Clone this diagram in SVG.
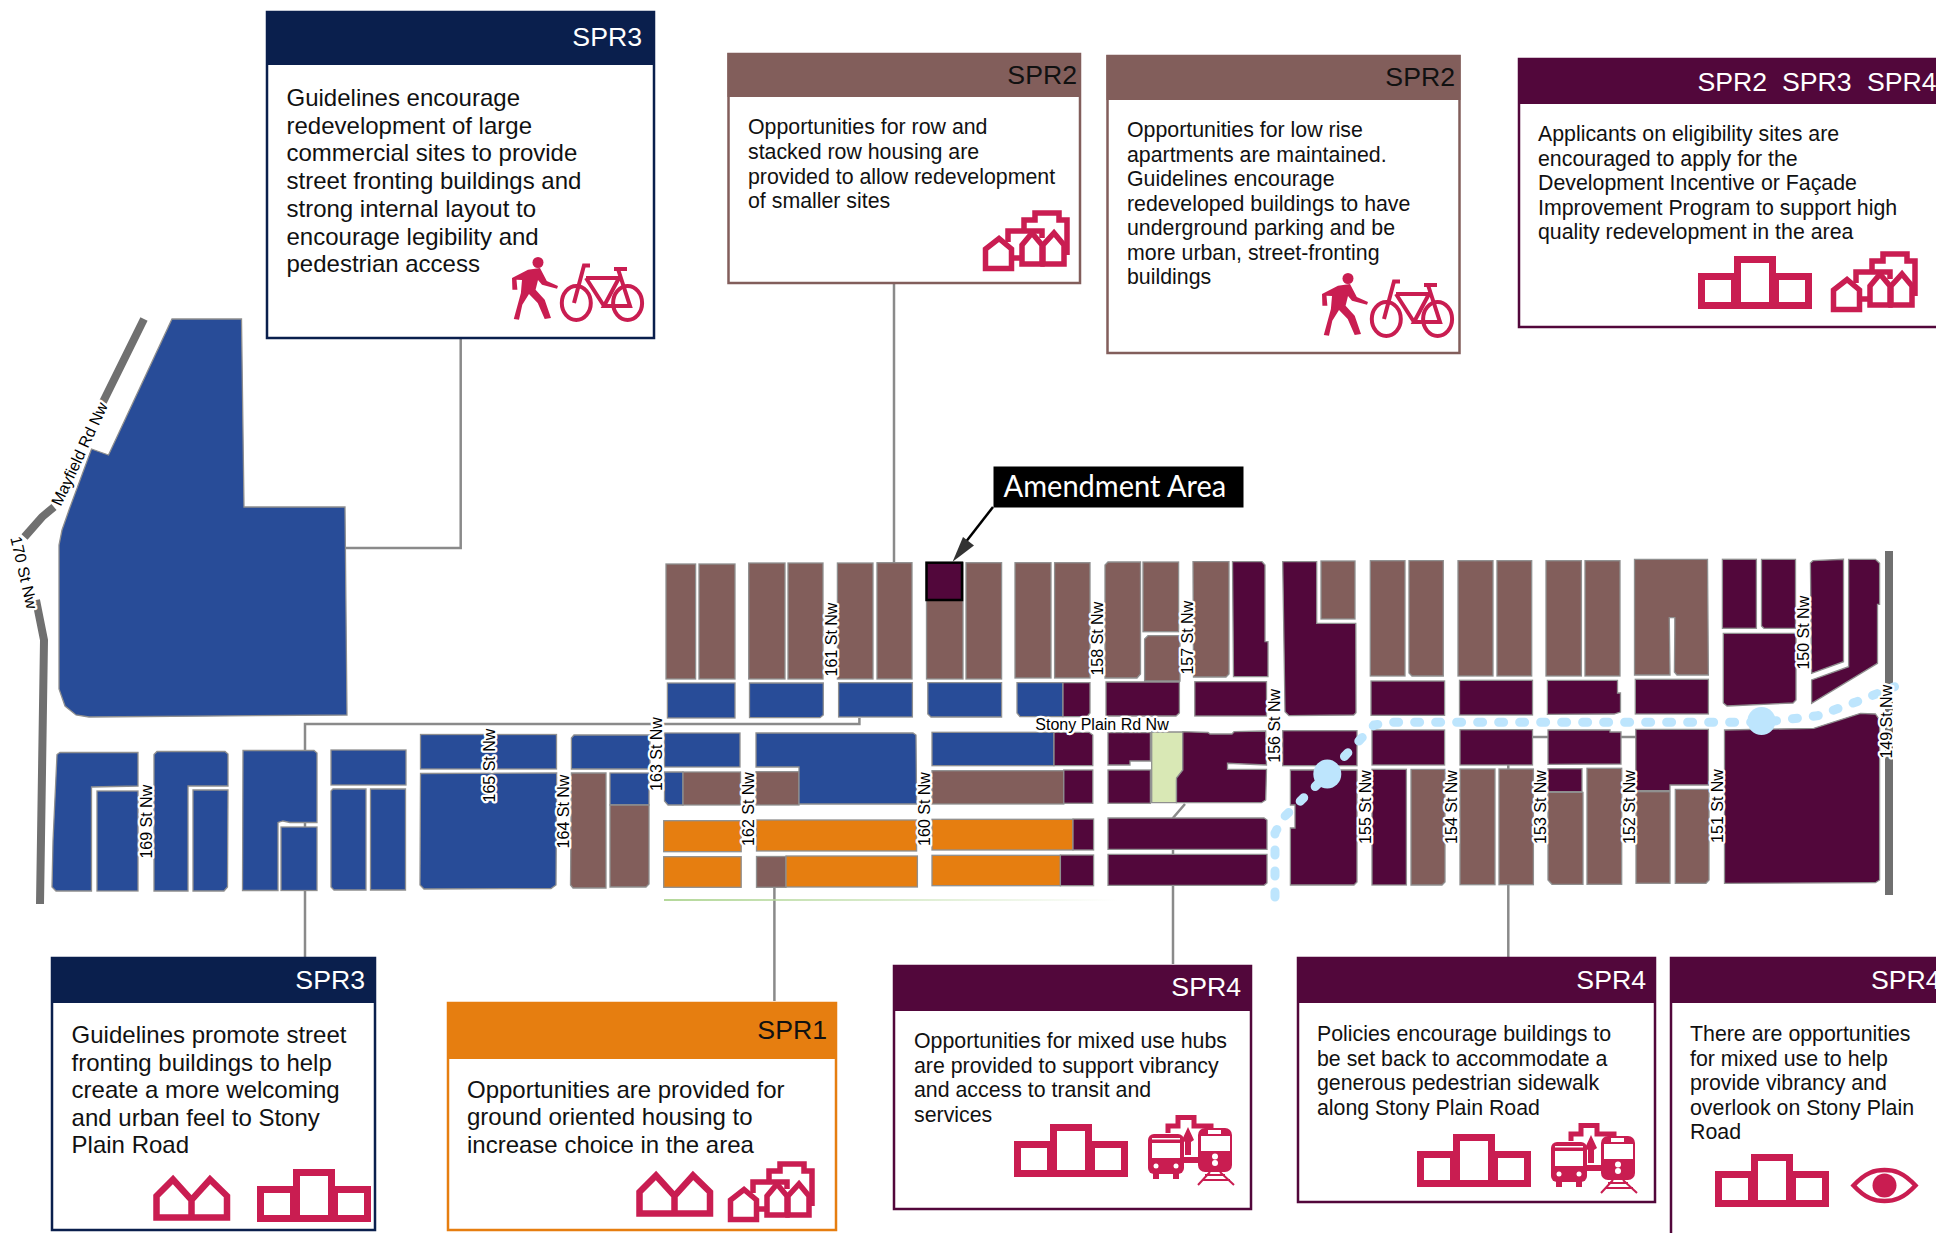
<svg xmlns="http://www.w3.org/2000/svg" xmlns:xlink="http://www.w3.org/1999/xlink" width="1936" height="1233" viewBox="0 0 1936 1233">
<style>
text{font-family:"Liberation Sans",Arial,sans-serif;fill:#111}
.b{fill:#284c98}.r{fill:#825e5b}.p{fill:#52073b}.o{fill:#e67e10}
#map rect,#map polygon{stroke:#8f8f8f;stroke-width:1.3}
.st{font-size:16px;text-anchor:middle;stroke:#fff;stroke-width:4.5px;paint-order:stroke;stroke-linejoin:round;fill:#000}
.road{fill:none;stroke:#707070;stroke-width:8}
.conn{fill:none;stroke:#8a8a8a;stroke-width:2.5}
.hd{font-size:26.67px;text-anchor:end}
.lg{font-size:24px}.sm{font-size:21.33px}
.w{fill:#fff}
.ic{fill:none;stroke:#c91d51}
.icf{fill:#c91d51}
.pw{fill:#fff;stroke-width:2.5}
</style>
<defs>
<linearGradient id="gl" gradientUnits="userSpaceOnUse" x1="664" y1="0" x2="1118" y2="0"><stop offset="0" stop-color="#b4d89a"/><stop offset="1" stop-color="#b4d89a" stop-opacity="0"/></linearGradient>
<g id="podium"><path class="ic" stroke-width="7" d="M3.5,20.5H36.500V49.500H3.500ZM39.500,3.500H74.500V49.500H39.500ZM77.500,20.500H110.500V49.500H77.500Z"/></g>
<g id="cluster"><g class="ic" stroke-width="5.500"><path d="M2.5,58.500V39L16,28.500L28.500,39V58.500Z"/><path d="M25,32V21H59V28"/><path d="M41,21V10H52V3H76V10H84V45"/><path d="M39,54V35L49,23L59,35V54Z"/><path d="M60,54V35L71,23L81,35V54Z"/><path d="M29,48H39"/></g></g>
<g id="houses"><path class="ic" stroke-width="6.500" d="M3.500,44.500V23L20,6.500L38.500,27L57,6.500L74,23V44.500ZM38.500,27V44.500"/></g>
<g id="pedbike"><circle class="icf" cx="26" cy="4.500" r="5.500"/><polygon class="icf" points="16,11.700 28,10 34.800,23 46,28 45,30.700 30,26.700 26,22 23.600,31.700 32.700,41.700 39,60 32.700,61 25.700,45 17,36 10.300,46.700 7,61.700 1.800,61 8.900,35 10,22 4.500,21.700 5.400,31.700 0.400,31.700 0,20"/><g class="ic" stroke-width="4"><ellipse cx="64.300" cy="45" rx="14.500" ry="17"/><ellipse cx="115.600" cy="45" rx="14.500" ry="17"/><path d="M62,45L72,7.500H78M74,20H107L92,48H118L106,11M74,20L92,48M102,11H115"/></g></g>
<g id="transit"><path class="ic" stroke-width="5" d="M20,18V11H30V2.500H46V11H63V15"/><polygon class="icf" points="40,12 46,25 43,27 43,40 37,40 37,27 34,25"/><rect class="icf" x="36" y="42" width="14" height="6"/><rect class="icf" x="0" y="19" width="36" height="40" rx="6"/><rect class="w" x="4" y="28" width="28" height="15"/><rect class="w" x="4" y="23" width="28" height="1.500"/><circle class="w" cx="8" cy="51" r="2.500"/><circle class="w" cx="28" cy="51" r="2.500"/><rect class="icf" x="5" y="58" width="6" height="6"/><rect class="icf" x="25" y="58" width="6" height="6"/><rect class="icf" x="50" y="13" width="34" height="44" rx="7"/><rect class="w" x="53" y="21" width="29" height="15"/><rect class="w" x="60" y="15" width="13" height="4"/><circle class="w" cx="67" cy="41.500" r="3"/><circle class="w" cx="67" cy="48" r="3"/><path class="ic" stroke-width="2" d="M62,57L50,70M72,57L86,70M57,60H77M54,65H82"/></g>
<g id="eye"><path class="ic" stroke-width="4.500" d="M2.500,17.500C15,4 24,2 33.500,2C43,2 52,4 64.500,17.500C52,31 43,33 33.500,33C24,33 15,31 2.500,17.500Z"/><ellipse class="icf" cx="33.500" cy="17.500" rx="12" ry="12"/></g>
</defs>
<rect width="1936" height="1233" fill="#fff"/>

<g id="connectors">
<path class="conn" d="M460.700,338V548H346"/>
<path class="conn" d="M894,283V563"/>
<path class="conn" d="M859.400,718V724H305V957"/>
<path class="conn" d="M774.400,887V1001"/>
<path class="conn" d="M1185,804L1173,818V964"/>
<path class="conn" d="M1508.300,737V957M1508,737H1636"/>
<path stroke="url(#gl)" stroke-width="2" fill="none" d="M664,900H1118"/>
</g>

<g id="roads">
<path class="road" d="M144,319L103,402M54,507L42,517L24.500,537"/>
<path class="road" d="M36,600L44,640L40,904"/>
<path class="road" d="M1889,551V895"/>
</g>

<g id="map">
<polygon class="b" points="172,319 241.500,319 244,507 345,507 347,715 89,717 76,715 65,706 59,689 59,545 62,530 69,510 91.500,449 108.500,455"/>
<polygon class="b" points="57,754.500 60,752.500 138,752.500 138,786 91.500,787 91.500,891 56,891 52,887 53,841"/>
<rect class="b" x="97" y="791" width="41" height="100"/>
<polygon class="b" points="154,754.500 157,751.500 225,751.500 228,754 228,786 188,786 188,891 154,891"/>
<polygon class="b" points="193,790 228,790 227.500,887 224,891 193,891"/>
<polygon class="b" points="243,750.500 314,750.500 317,753 317,822.500 290,822.500 283,821 278,822.500 278,890.500 242.500,890.500"/>
<rect class="b" x="281" y="827" width="36" height="63.500"/>
<rect class="b" x="331" y="750" width="75" height="35"/>
<polygon class="b" points="333,789 366,789 366,890 334,890 331,887 331,791"/>
<polygon class="b" points="370.500,789 405.500,789 405.500,890 370.500,890"/>
<rect class="b" x="420.500" y="734.500" width="136" height="34.500"/>
<polygon class="b" points="420.500,773.500 556.700,773 556,885 551,888.500 424,889 420,885"/>
<polygon class="b" points="574,735 650,735 650,769 571.400,769 571.400,738"/>
<polygon class="r" points="571.400,773 606,773 606,888 573,888 570.500,885"/>
<rect class="b" x="610" y="773" width="39" height="32"/>
<polygon class="r" points="610,805 649,805 649,884 646,887 610,887"/>
<rect class="b" x="664.500" y="733" width="75.500" height="34"/>
<polygon class="b" points="664.500,772 683,772 683,805 668,805 664.500,801"/>
<rect class="r" x="683" y="772" width="57.500" height="33"/>
<rect class="r" x="756" y="771.700" width="43" height="33.300"/>
<polygon class="b" points="756,733 913,733 916,735 916.600,804 799,804 799,767 756,767"/>

<rect class="r" x="666" y="564" width="29.600" height="115"/>
<rect class="r" x="699" y="564" width="36" height="115"/>
<rect class="r" x="748.700" y="563" width="36.300" height="116"/>
<rect class="r" x="788" y="563" width="35" height="116"/>
<rect class="r" x="837.400" y="563" width="35.600" height="116"/>
<rect class="r" x="877" y="562.700" width="35" height="116.300"/>
<rect class="r" x="926.500" y="562.700" width="36.500" height="116.300"/>
<rect class="r" x="966" y="562.700" width="35.600" height="116.300"/>
<rect class="r" x="1015" y="562.700" width="36" height="115.300"/>
<rect class="r" x="1054.600" y="562.700" width="35.400" height="115.300"/>
<polygon class="r" points="1108,562 1140.500,562 1140.500,674 1137,678 1105,678 1105,565"/>
<rect class="r" x="1143" y="562" width="35.600" height="69.700"/>
<polygon class="r" points="1148,635.700 1180,635.700 1180,681 1144.600,681 1144.600,639"/>
<polygon class="r" points="1193,561.700 1229,561.700 1229,674 1226,677 1193.500,677"/>
<polygon class="p" points="1232.500,561.700 1262,561.700 1265,565 1265,641.700 1268,641.700 1268,676.700 1233.500,676.700"/>

<rect class="b" x="667.400" y="683" width="67.600" height="35"/>
<polygon class="b" points="749.500,683 823.300,683 823.300,715 820,717.700 749.500,717.700"/>
<rect class="b" x="838.600" y="682.700" width="73.800" height="34.300"/>
<polygon class="b" points="927.800,682.700 1001.600,682.700 1001.600,717 931,717 927.800,714"/>
<polygon class="b" points="1017,682.700 1063,682.700 1063,716.700 1020,716.700 1017,713"/>
<polygon class="p" points="1063,682.700 1090,682.700 1090,713 1087,716.700 1063,716.700"/>
<polygon class="p" points="1106,682 1179.400,682 1179.400,713 1176,716 1106,716"/>
<rect class="p" x="1194.800" y="681.700" width="71.700" height="34.300"/>

<rect class="b" x="932" y="732.300" width="122" height="33.400"/>
<polygon class="p" points="1054,732.300 1089,732.300 1092.800,735 1092.800,765.700 1054,765.700"/>
<polygon class="p" points="1108,732.700 1150.400,732.700 1150.400,761 1130,761 1130,765 1108,765"/>
<polygon fill="#d9e8b5" points="1151.700,732 1182.800,732 1182.800,770 1176.500,780 1176.500,802.700 1151.700,802.700"/>
<polygon class="p" points="1182.800,731.700 1208,732.500 1210,734 1232,734 1234,731.700 1265.700,731 1266.500,765 1227.500,763.300 1227.500,769.300 1266.500,769.300 1265.700,800 1261.500,802.700 1176.500,802.700 1176.500,778 1182.800,770"/>
<rect class="p" x="1108" y="770" width="42.400" height="33.300"/>
<rect class="r" x="932" y="770.700" width="131.800" height="33.300"/>
<rect class="p" x="1063.800" y="770" width="29" height="33.300"/>

<rect class="o" x="663.700" y="820.700" width="77.500" height="31"/>
<rect class="o" x="756.500" y="820" width="160.100" height="31"/>
<rect class="o" x="932" y="819.300" width="141" height="30.700"/>
<rect class="p" x="1073" y="819" width="20.600" height="31"/>
<polygon class="p" points="1108,818 1264,818 1267,820 1267,849.300 1108,849.300"/>
<rect class="o" x="663.700" y="856.700" width="77.500" height="30.600"/>
<rect class="r" x="756.500" y="856.500" width="29.500" height="30.800"/>
<rect class="o" x="786" y="856" width="131.400" height="31"/>
<rect class="o" x="932" y="855.300" width="128.400" height="30.400"/>
<rect class="p" x="1060.400" y="855" width="33.200" height="30.700"/>
<polygon class="p" points="1108,854.300 1267,854.300 1267,883 1264,885.300 1108,885.300"/>

<polygon class="p" points="1282.700,561.700 1316.700,561.700 1316.700,623.300 1355.800,623.300 1356,712.700 1353.700,715 1289,715.700 1285,711.700"/>
<rect class="r" x="1321" y="561" width="34" height="58"/>
<rect class="r" x="1370.300" y="560.700" width="34.700" height="115.300"/>
<polygon class="r" points="1409,560.700 1443.300,560.700 1443.300,676 1412,676 1409,673"/>
<rect class="r" x="1458" y="560.700" width="35" height="115.300"/>
<rect class="r" x="1497" y="560.700" width="34.700" height="115.300"/>
<rect class="r" x="1546" y="560.700" width="35.400" height="115.300"/>
<rect class="r" x="1585" y="560.700" width="35" height="115.300"/>
<polygon class="r" points="1634.500,559.300 1707.500,559.300 1708.400,675 1677,675 1674.400,672 1674.800,626 1674.800,617.700 1669.300,617.700 1670,675 1634.500,675"/>
<rect class="p" x="1722.400" y="559.300" width="34" height="69"/>
<polygon class="p" points="1761.500,559.300 1795.500,559.300 1795.500,628.300 1764,628.300 1761.500,626"/>
<polygon class="p" points="1723.300,633.300 1796,633.300 1796,700 1793,703 1727,706 1723.300,703"/>
<polygon class="p" points="1813,560.700 1843.500,559.300 1843.500,661.700 1811.600,673.300 1810.400,563"/>
<polygon class="p" points="1848.600,559.300 1875.400,559.300 1879.600,563.300 1879.600,604.300 1877.500,604.300 1877.500,663.300 1811.600,703.300 1811.600,680 1848.600,666.700"/>
<rect class="p" x="1371" y="681" width="73.600" height="34.300"/>
<rect class="p" x="1459.500" y="680.300" width="73" height="34.700"/>
<polygon class="p" points="1547.400,680.300 1617.500,680.300 1617.500,693 1620.500,693 1620.500,712 1614,714 1547.400,714.300"/>
<rect class="p" x="1635.300" y="679.300" width="73.100" height="34.700"/>
<rect class="p" x="1282.700" y="730.700" width="74.300" height="35"/>
<rect class="p" x="1372" y="730" width="72.600" height="35"/>
<rect class="p" x="1460" y="729.700" width="72.500" height="35.300"/>
<polygon class="p" points="1548,730 1610,730 1610,732 1621,732 1621,764 1548,764.300"/>
<polygon class="p" points="1635.800,729.300 1708.400,729.300 1708.400,785 1670,785 1670,790.700 1635.800,790.700"/>
<rect class="r" x="1636" y="791.700" width="34" height="91.600"/>
<polygon class="r" points="1675.300,789.300 1709,789.300 1709,880 1706,883.300 1675.300,883.300"/>
<polygon class="p" points="1724.500,730 1813.800,728.300 1860.500,713.300 1875.400,714 1879.600,720 1879.600,880 1875.400,882.700 1724.500,883.300"/>
<polygon class="p" points="1290.400,770 1357,770 1357,882 1354,885 1290.400,885 1290.400,828 1295,828 1295,805 1290.400,805"/>
<rect class="p" x="1372" y="769.300" width="34.400" height="115.700"/>
<polygon class="r" points="1411,769.300 1445,769.300 1445,882 1442,885 1411,885"/>
<rect class="r" x="1460" y="769" width="35" height="115.700"/>
<rect class="r" x="1499" y="769" width="34.400" height="115.700"/>
<rect class="p" x="1548" y="768.700" width="34" height="23"/>
<polygon class="r" points="1548,792.300 1583,792.300 1583,884.300 1552,884.300 1548,880"/>
<rect class="r" x="1587" y="768.300" width="34.700" height="116"/>
</g>

<g id="amendment-site"><rect x="926.500" y="562.700" width="35.500" height="37.300" fill="#52073b" stroke="#000" stroke-width="2.500"/></g>

<g id="transit-line">
<path d="M1275,897V833L1283,818L1327,775L1357,743L1374,725L1391,722.300H1763L1818,715.700L1856,702L1894.500,686.700" fill="none" stroke="#bde5fd" stroke-width="9" stroke-linecap="round" stroke-dasharray="5 16"/>
<ellipse cx="1327.300" cy="774" rx="14" ry="14.500" fill="#bde5fd"/>
<ellipse cx="1761.500" cy="721" rx="14" ry="14" fill="#bde5fd"/>
</g>

<g id="street-labels">
<text class="st" transform="translate(146,821.700) rotate(-90)" y="5.500">169 St Nw</text>
<text class="st" transform="translate(489,765.600) rotate(-90)" y="5.500">165 St Nw</text>
<text class="st" transform="translate(563.400,811.500) rotate(-90)" y="5.500">164 St Nw</text>
<text class="st" transform="translate(656,754) rotate(-90)" y="5.500">163 St Nw</text>
<text class="st" transform="translate(748.700,809) rotate(-90)" y="5.500">162 St Nw</text>
<text class="st" transform="translate(831,639.500) rotate(-90)" y="5.500">161 St Nw</text>
<text class="st" transform="translate(924.500,809) rotate(-90)" y="5.500">160 St Nw</text>
<text class="st" transform="translate(1097.800,638.700) rotate(-90)" y="5.500">158 St Nw</text>
<text class="st" transform="translate(1187,637.700) rotate(-90)" y="5.500">157 St Nw</text>
<text class="st" transform="translate(1274.800,725.800) rotate(-90)" y="5.500">156 St Nw</text>
<text class="st" transform="translate(1365.600,807) rotate(-90)" y="5.500">155 St Nw</text>
<text class="st" transform="translate(1451.800,807) rotate(-90)" y="5.500">154 St Nw</text>
<text class="st" transform="translate(1540.600,807) rotate(-90)" y="5.500">153 St Nw</text>
<text class="st" transform="translate(1629,807) rotate(-90)" y="5.500">152 St Nw</text>
<text class="st" transform="translate(1717.300,806) rotate(-90)" y="5.500">151 St Nw</text>
<text class="st" transform="translate(1803,632.700) rotate(-90)" y="5.500">150 St Nw</text>
<text class="st" transform="translate(1886.800,721.700) rotate(-90)" y="5.500">149 St Nw</text>
<text class="st" x="1102" y="730">Stony Plain Rd Nw</text>
<text class="st" transform="translate(79.500,454) rotate(-65)" y="5.500">Mayfield Rd Nw</text>
<text class="st" transform="translate(24,572.500) rotate(77)" y="5.500">170 St Nw</text>
</g>

<g id="amendment-label">
<path d="M993,507L965,543" stroke="#000" stroke-width="2.500" fill="none"/>
<polygon points="952.600,561.700 963,537 974,545.500" fill="#333"/>
<rect x="993.500" y="466.500" width="250" height="41" fill="#000"/>
<text x="1003.600" y="497" textLength="222.600" lengthAdjust="spacingAndGlyphs" style="font-family:Lato,'Liberation Sans',sans-serif;font-size:30px;fill:#fff">Amendment Area</text>
</g>

<g id="panel-spr3-north">
<rect class="pw" x="267" y="12" width="387" height="326" stroke="#0a1f4d"/><rect x="266" y="11" width="389" height="54" fill="#0a1f4d"/>
<text class="hd w" x="642" y="46">SPR3</text>
<text class="lg"><tspan x="286.500" y="106">Guidelines encourage</tspan><tspan x="286.500" dy="27.700">redevelopment of large</tspan><tspan x="286.500" dy="27.700">commercial sites to provide</tspan><tspan x="286.500" dy="27.700">street fronting buildings and</tspan><tspan x="286.500" dy="27.700">strong internal layout to</tspan><tspan x="286.500" dy="27.700">encourage legibility and</tspan><tspan x="286.500" dy="27.700">pedestrian access</tspan></text>
<use xlink:href="#pedbike" href="#pedbike" x="512" y="258"/>
</g>
<g id="panel-spr2-row">
<rect class="pw" x="728.500" y="54" width="351.500" height="229" stroke="#825e5b"/><rect x="727.500" y="53" width="353.500" height="44" fill="#825e5b"/>
<text class="hd" x="1077" y="84">SPR2</text>
<text class="sm"><tspan x="748" y="134">Opportunities for row and</tspan><tspan x="748" dy="24.800">stacked row housing are</tspan><tspan x="748" dy="24.800">provided to allow redevelopment</tspan><tspan x="748" dy="24.800">of smaller sites</tspan></text>
<use xlink:href="#cluster" href="#cluster" x="983" y="210"/>
</g>
<g id="panel-spr2-apartments">
<rect class="pw" x="1107.500" y="56" width="352" height="297" stroke="#825e5b"/><rect x="1106.500" y="55" width="354" height="45" fill="#825e5b"/>
<text class="hd" x="1455" y="86">SPR2</text>
<text class="sm"><tspan x="1127" y="137">Opportunities for low rise</tspan><tspan x="1127" dy="24.500">apartments are maintained.</tspan><tspan x="1127" dy="24.500">Guidelines encourage</tspan><tspan x="1127" dy="24.500">redeveloped buildings to have</tspan><tspan x="1127" dy="24.500">underground parking and be</tspan><tspan x="1127" dy="24.500">more urban, street-fronting</tspan><tspan x="1127" dy="24.500">buildings</tspan></text>
<use xlink:href="#pedbike" href="#pedbike" x="1322" y="274"/>
</g>
<g id="panel-spr234">
<rect class="pw" x="1519" y="59" width="440" height="268" stroke="#52073b"/><rect x="1518" y="58" width="442" height="46" fill="#52073b"/>
<text class="hd w" x="1936" y="91" style="text-anchor:start"><tspan x="1697.500">SPR2</tspan><tspan x="1782">SPR3</tspan><tspan x="1867">SPR4</tspan></text>
<text class="sm"><tspan x="1538" y="141">Applicants on eligibility sites are</tspan><tspan x="1538" dy="24.600">encouraged to apply for the</tspan><tspan x="1538" dy="24.600">Development Incentive or Façade</tspan><tspan x="1538" dy="24.600">Improvement Program to support high</tspan><tspan x="1538" dy="24.600">quality redevelopment in the area</tspan></text>
<use xlink:href="#podium" href="#podium" x="1698" y="256"/>
<use xlink:href="#cluster" href="#cluster" x="1831" y="251"/>
</g>
<g id="panel-spr3-south">
<rect class="pw" x="52" y="958" width="323" height="272" stroke="#0a1f4d"/><rect x="51" y="957" width="325" height="46" fill="#0a1f4d"/>
<text class="hd w" x="365" y="989">SPR3</text>
<text class="lg"><tspan x="71.600" y="1043">Guidelines promote street</tspan><tspan x="71.600" dy="27.500">fronting buildings to help</tspan><tspan x="71.600" dy="27.500">create a more welcoming</tspan><tspan x="71.600" dy="27.500">and urban feel to Stony</tspan><tspan x="71.600" dy="27.500">Plain Road</tspan></text>
<use xlink:href="#houses" href="#houses" x="153" y="1173"/>
<use xlink:href="#podium" href="#podium" x="257" y="1169"/>
</g>
<g id="panel-spr1">
<rect class="pw" x="448" y="1003" width="388" height="227" stroke="#e67e10"/><rect x="447" y="1002" width="390" height="57" fill="#e67e10"/>
<text class="hd" x="827" y="1039">SPR1</text>
<text class="lg"><tspan x="467" y="1097.600">Opportunities are provided for</tspan><tspan x="467" dy="27.700">ground oriented housing to</tspan><tspan x="467" dy="27.700">increase choice in the area</tspan></text>
<use xlink:href="#houses" href="#houses" x="636" y="1169"/>
<use xlink:href="#cluster" href="#cluster" x="728" y="1161"/>
</g>
<g id="panel-spr4-hubs">
<rect class="pw" x="894" y="966" width="357" height="243" stroke="#52073b"/><rect x="893" y="965" width="359" height="46" fill="#52073b"/>
<text class="hd w" x="1241" y="996">SPR4</text>
<text class="sm"><tspan x="914" y="1048">Opportunities for mixed use hubs</tspan><tspan x="914" dy="24.500">are provided to support vibrancy</tspan><tspan x="914" dy="24.500">and access to transit and</tspan><tspan x="914" dy="24.500">services</tspan></text>
<use xlink:href="#podium" href="#podium" x="1014" y="1124"/>
<use xlink:href="#transit" href="#transit" x="1148" y="1115"/>
</g>
<g id="panel-spr4-setback">
<rect class="pw" x="1298" y="958" width="357" height="244" stroke="#52073b"/><rect x="1297" y="957" width="359" height="46" fill="#52073b"/>
<text class="hd w" x="1646" y="989">SPR4</text>
<text class="sm"><tspan x="1317" y="1041">Policies encourage buildings to</tspan><tspan x="1317" dy="24.500">be set back to accommodate a</tspan><tspan x="1317" dy="24.500">generous pedestrian sidewalk</tspan><tspan x="1317" dy="24.500">along Stony Plain Road</tspan></text>
<use xlink:href="#podium" href="#podium" x="1417" y="1134"/>
<use xlink:href="#transit" href="#transit" x="1551" y="1123"/>
</g>
<g id="panel-spr4-overlook">
<rect class="pw" x="1671" y="958" width="300" height="300" stroke="#52073b"/><rect x="1670" y="957" width="302" height="46" fill="#52073b"/>
<text class="hd w" x="1871" y="989" style="text-anchor:start">SPR4</text>
<text class="sm"><tspan x="1690" y="1041">There are opportunities</tspan><tspan x="1690" dy="24.500">for mixed use to help</tspan><tspan x="1690" dy="24.500">provide vibrancy and</tspan><tspan x="1690" dy="24.500">overlook on Stony Plain</tspan><tspan x="1690" dy="24.500">Road</tspan></text>
<use xlink:href="#podium" href="#podium" x="1715" y="1154"/>
<use xlink:href="#eye" href="#eye" x="1851" y="1168"/>
</g>
</svg>
